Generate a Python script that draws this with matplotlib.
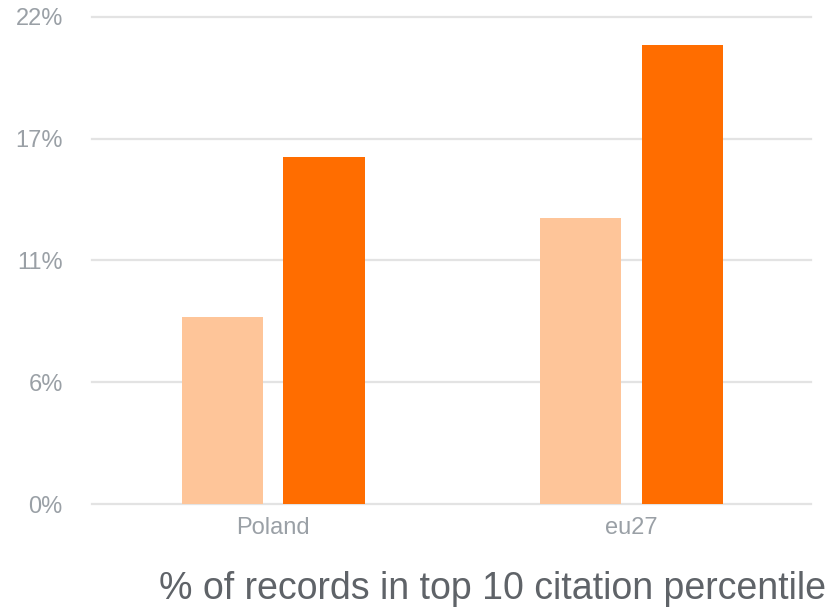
import numpy as np
import matplotlib
matplotlib.use('Agg')
import matplotlib.pyplot as plt
from matplotlib.ticker import FuncFormatter

# values (percent)
categories = ['Poland', 'eu27']
series_light = [8.44, 12.91]
series_dark = [15.67, 20.72]
y_ticks = [0, 5.5, 11, 16.5, 22]
title = '% of records in top 10 citation percentile'

plt.rcParams['font.family'] = ['Liberation Sans', 'DejaVu Sans']

fig = plt.figure(figsize=(8.33, 6.11), dpi=100)
ax = fig.add_axes([0.1104, 0.1751, 0.9736 - 0.1104, 0.9727 - 0.1751])

x = np.arange(len(categories))
w = 0.226
off = 0.142
ax.bar(x - off, series_light, width=w, color='#fec599', zorder=3)
ax.bar(x + off, series_dark, width=w, color='#ff6d00', zorder=3)

ax.set_xlim(-0.505, 1.5)
ax.set_ylim(0, 22)
ax.set_yticks(y_ticks)
ax.yaxis.set_major_formatter(FuncFormatter(lambda v, p: '%d%%' % round(v + 1e-9)))
ax.set_xticks(x)
ax.set_xticklabels(categories)

ax.grid(axis='y', color='#e3e3e3', linewidth=1.6, zorder=0)
for ln in ax.get_ygridlines():
    ln.set_clip_on(False)
for s in ax.spines.values():
    s.set_visible(False)
ax.tick_params(axis='both', length=0, labelsize=17, labelcolor='#9aa0a6')
ax.tick_params(axis='y', pad=21)
ax.tick_params(axis='x', pad=9.5)

fig.text(0.9916, 0.019, title, ha='right', va='baseline', fontsize=27, color='#5f6368')

fig.savefig('out.png', dpi=100)
